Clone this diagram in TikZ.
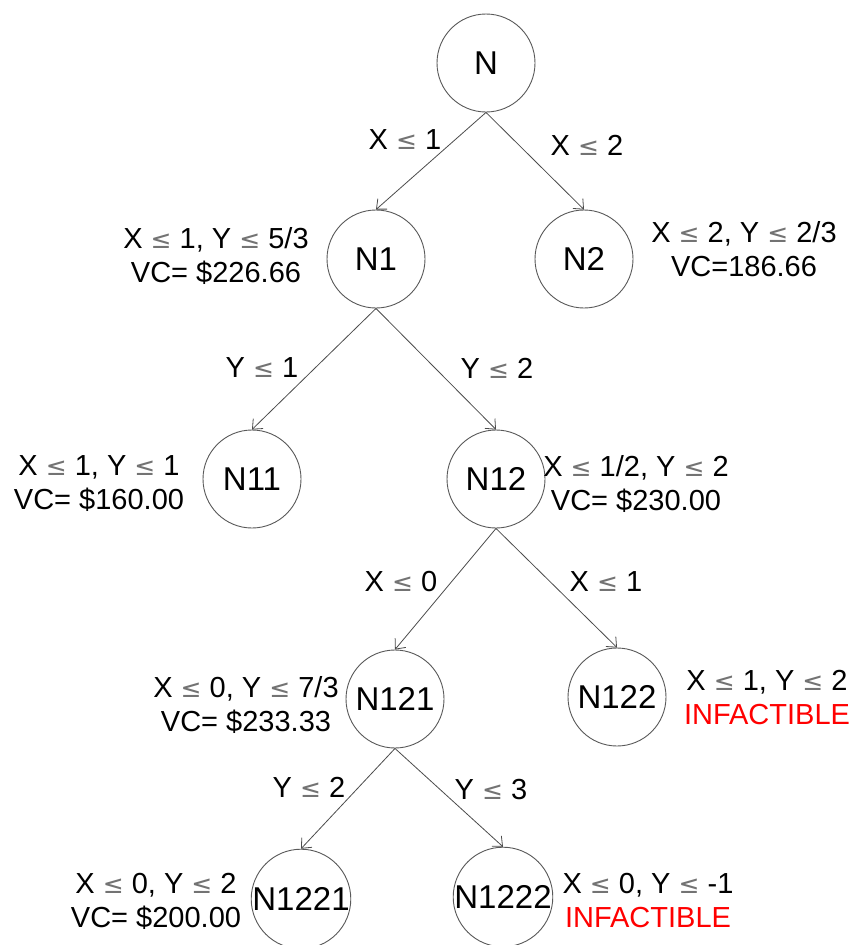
\documentclass[tikz,border=0pt]{standalone}
\usepackage{fontspec}
\setmainfont{Liberation Sans}
\newfontfamily\symfont{DejaVu Sans}
\usetikzlibrary{arrows.meta}
\newcommand{\lesym}{{\symfont\fontsize{25}{25}\selectfont\color{black!55}≤}}
\begin{document}
\begin{tikzpicture}[x=1pt,y=-1pt,
  state/.style={circle, draw=black!65, line width=0.9pt, minimum size=98pt, inner sep=0pt, font=\fontsize{33}{33}\selectfont},
  info/.style={align=center, font=\fontsize{29}{34}\selectfont, inner sep=0pt},
  blab/.style={font=\fontsize{29}{34}\selectfont, inner sep=0pt},
  edge/.style={draw=black!70, line width=0.8pt, -{Straight Barb[length=8pt,width=14pt]}}]
\useasboundingbox (0,0) rectangle (854,945);
\clip (0,0) rectangle (854,945);
\fill[white] (0,0) rectangle (854,945);

\node[state] (N) at (486,63) {N};
\node[state] (N1) at (376,259) {N1};
\node[state] (N2) at (584,259) {N2};
\node[state] (N11) at (252,479) {N11};
\node[state] (N12) at (496,479) {N12};
\node[state] (N121) at (395,699) {N121};
\node[state] (N122) at (617,697) {N122};
\node[state] (N1221) at (301,899) {N1221};
\node[state] (N1222) at (503,897) {N1222};

\draw[edge] (N.south) -- (N1.north);
\draw[edge] (N.south) -- (N2.north);
\draw[edge] (N1.south) -- (N11.north);
\draw[edge] (N1.south) -- (N12.north);
\draw[edge] (N12.south) -- (N121.north);
\draw[edge] (N12.south) -- (N122.north);
\draw[edge] (N121.south) -- (N1221.north);
\draw[edge] (N121.south) -- (N1222.north);

\node[blab] (l1) at (405,140) {X \lesym{} 1};
\node[blab] (l2) at (587,145) {X \lesym{} 2};
\node[blab] (l3) at (262,368) {Y \lesym{} 1};
\node[blab] (l4) at (497,368) {Y \lesym{} 2};
\node[blab] (l5) at (401,582) {X \lesym{} 0};
\node[blab] (l6) at (606,582) {X \lesym{} 1};
\node[blab] (l7) at (309,787) {Y \lesym{} 2};
\node[blab] (l8) at (491,790) {Y \lesym{} 3};

\node[info] (i1) at (216,256) {X \lesym{} 1, Y \lesym{} 5/3\\VC= \$226.66};
\node[info] (i2) at (744,249) {X \lesym{} 2, Y \lesym{} 2/3\\VC=186.66};
\node[info] (i11) at (99,484) {X \lesym{} 1, Y \lesym{} 1\\VC= \$160.00};
\node[info] (i12) at (636,484) {X \lesym{} 1/2, Y \lesym{} 2\\VC= \$230.00};
\node[info] (i121) at (246,705) {X \lesym{} 0, Y \lesym{} 7/3\\VC= \$233.33};
\node[info] (i122) at (767,698) {X \lesym{} 1, Y \lesym{} 2\\\textcolor{red}{INFACTIBLE}};
\node[info] (i1221) at (156,901) {X \lesym{} 0, Y \lesym{} 2\\VC= \$200.00};
\node[info] (i1222) at (648,901) {X \lesym{} 0, Y \lesym{} -1\\\textcolor{red}{INFACTIBLE}};
\end{tikzpicture}
\end{document}
